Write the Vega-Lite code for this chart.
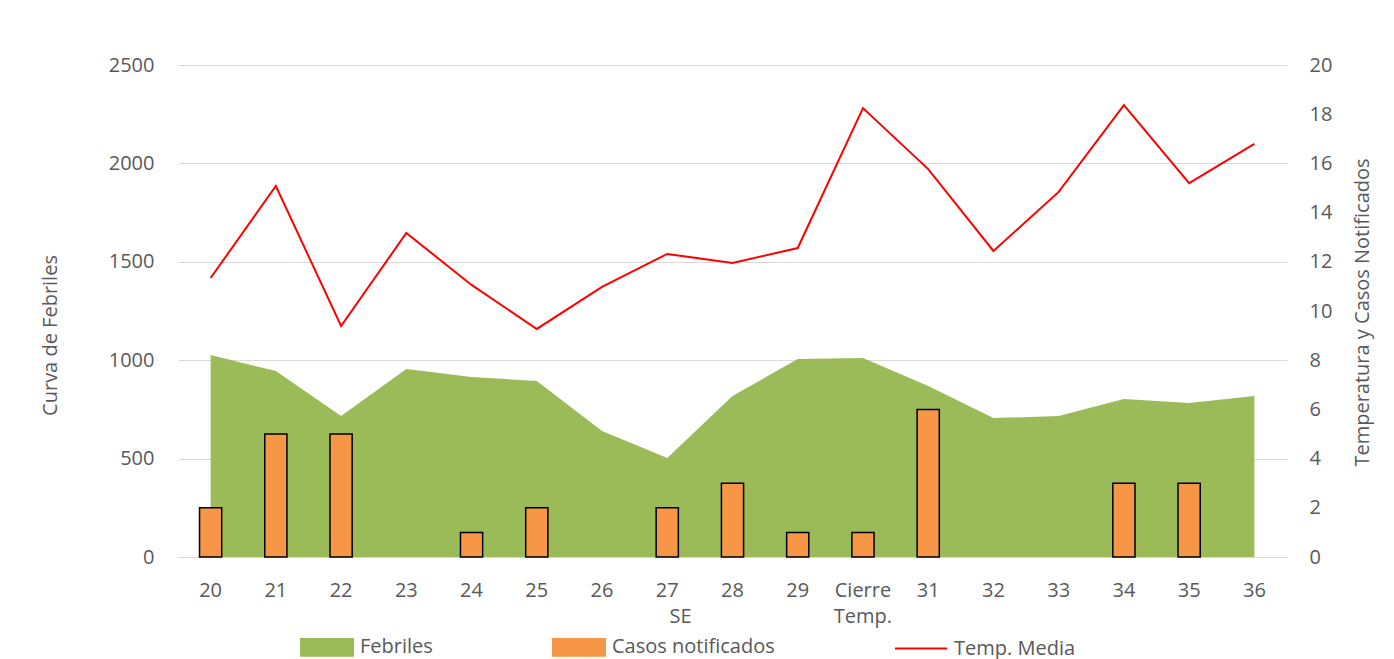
{
  "$schema": "https://vega.github.io/schema/vega-lite/v6.json",
  "width": 1109,
  "height": 492,
  "autosize": {"type": "none"},
  "padding": {"left": 178, "top": 65, "right": 107, "bottom": 102},
  "background": "white",
  "config": {
    "view": {"stroke": null},
    "font": "Open Sans",
    "axis": {
      "labelFont": "Open Sans",
      "labelFontSize": 20,
      "labelColor": "#595959",
      "titleFont": "Open Sans",
      "titleFontSize": 20,
      "titleFontWeight": "normal",
      "titleColor": "#595959",
      "ticks": false,
      "domain": false,
      "grid": false
    },
    "legend": {
      "orient": "none",
      "legendX": 122,
      "legendY": 555,
      "direction": "horizontal",
      "columnPadding": 116,
      "labelOffset": 6,
      "labelFont": "Open Sans",
      "labelFontSize": 20,
      "labelColor": "#595959",
      "labelLimit": 400,
      "symbolSize": 2704,
      "symbolOpacity": 1,
      "padding": 0
    }
  },
  "data": {
    "values": [
      {"se": "20", "febriles": 1026, "casos": 2, "temp": 11.34},
      {"se": "21", "febriles": 945, "casos": 5, "temp": 15.08},
      {"se": "22", "febriles": 716, "casos": 5, "temp": 9.39},
      {"se": "23", "febriles": 955, "casos": 0, "temp": 13.17},
      {"se": "24", "febriles": 915, "casos": 1, "temp": 11.06},
      {"se": "25", "febriles": 894, "casos": 2, "temp": 9.27},
      {"se": "26", "febriles": 640, "casos": 0, "temp": 10.98},
      {"se": "27", "febriles": 503, "casos": 2, "temp": 12.32},
      {"se": "28", "febriles": 818, "casos": 3, "temp": 11.95},
      {"se": "29", "febriles": 1006, "casos": 1, "temp": 12.56},
      {"se": "Cierre Temp.", "febriles": 1011, "casos": 1, "temp": 18.25},
      {"se": "31", "febriles": 869, "casos": 6, "temp": 15.77},
      {"se": "32", "febriles": 706, "casos": 0, "temp": 12.44},
      {"se": "33", "febriles": 716, "casos": 0, "temp": 14.84},
      {"se": "34", "febriles": 803, "casos": 3, "temp": 18.37},
      {"se": "35", "febriles": 783, "casos": 3, "temp": 15.2},
      {"se": "36", "febriles": 818, "casos": 0, "temp": 16.79}
    ]
  },
  "encoding": {
    "x": {
      "field": "se",
      "type": "nominal",
      "sort": null,
      "scale": {"paddingInner": 0.66, "paddingOuter": 0.33},
      "axis": {
        "title": "SE",
        "labelAngle": 0,
        "labelPadding": 23,
        "labelExpr": "split(datum.label, ' ')",
        "labelLineHeight": 26,
        "domain": true,
        "domainColor": "#D9D9D9",
        "domainWidth": 1,
        "titleX": 502,
        "titleY": 65,
        "titleBaseline": "alphabetic",
        "titleAlign": "center"
      }
    }
  },
  "layer": [
    {
      "mark": {"type": "area"},
      "encoding": {
        "y": {
          "field": "febriles",
          "type": "quantitative",
          "scale": {"domain": [0, 2500]},
          "axis": {
            "title": "Curva de Febriles",
            "orient": "left",
            "grid": true,
            "gridColor": "#D9D9D9",
            "gridWidth": 1,
            "format": "d",
            "values": [0, 500, 1000, 1500, 2000, 2500],
            "labelPadding": 24,
            "titleAngle": 270,
            "titleX": -122,
            "titleY": 270,
            "titleBaseline": "alphabetic",
            "titleAlign": "center"
          }
        },
        "color": {
          "datum": "Febriles",
          "scale": {
            "domain": ["Febriles", "Casos notificados", "Temp. Media"],
            "range": ["#9BBB59", "#F79646", "#FF0000"]
          },
          "legend": {
            "title": null,
            "encode": {
              "symbols": {
                "update": {
                  "shape": {"signal": "datum.value === 'Temp. Media' ? 'M-1,0H1' : 'M-1,-0.32H1V0.32H-1Z'"},
                  "fill": {"signal": "datum.value === 'Temp. Media' ? 'transparent' : (datum.value === 'Febriles' ? '#9BBB59' : '#F79646')"},
                  "stroke": {"signal": "datum.value === 'Febriles' ? 'transparent' : (datum.value === 'Temp. Media' ? '#FF0000' : 'black')"},
                  "strokeWidth": {"value": 2},
                  "opacity": {"value": 1}
                }
              }
            }
          }
        }
      }
    },
    {
      "layer": [
        {
          "transform": [{"filter": "datum.casos > 0"}],
          "mark": {"type": "bar", "stroke": "black", "strokeWidth": 1.5},
          "encoding": {
            "y": {
              "field": "casos",
              "type": "quantitative",
              "scale": {"domain": [0, 20]},
              "axis": {
                "title": "Temperatura y Casos Notificados",
                "orient": "right",
                "values": [0, 2, 4, 6, 8, 10, 12, 14, 16, 18, 20],
                "labelPadding": 22,
                "titleAngle": 270,
                "titleX": 81,
                "titleY": 247,
                "titleBaseline": "alphabetic",
                "titleAlign": "center"
              }
            },
            "color": {"datum": "Casos notificados", "legend": null}
          }
        },
        {
          "mark": {"type": "line", "strokeWidth": 2},
          "encoding": {
            "y": {"field": "temp", "type": "quantitative"},
            "color": {"datum": "Temp. Media", "legend": null}
          }
        }
      ]
    }
  ],
  "resolve": {"scale": {"y": "independent"}}
}
